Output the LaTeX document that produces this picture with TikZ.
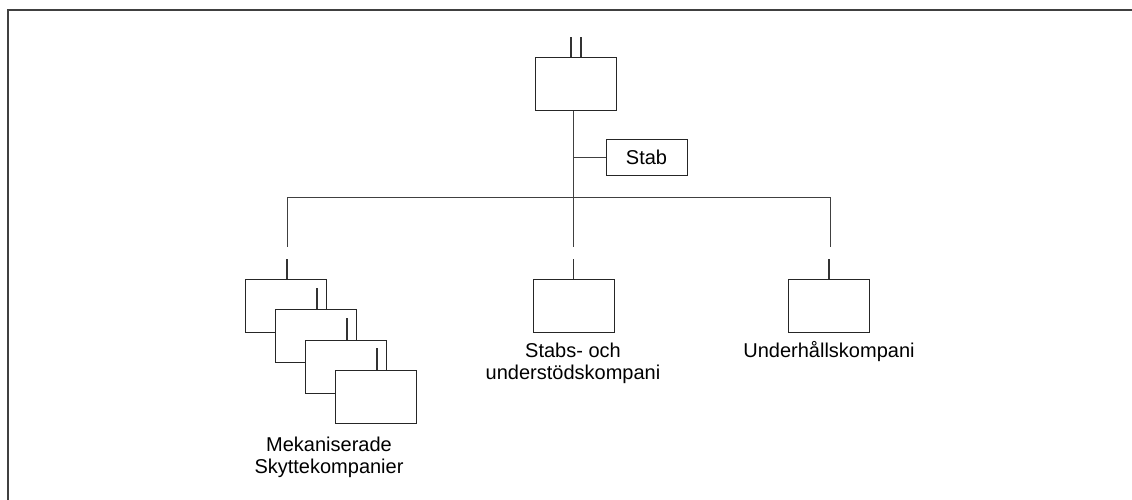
\documentclass[tikz,border=0pt]{standalone}
\usepackage{fontspec}
\setmainfont{Liberation Sans}
\begin{document}
\begin{tikzpicture}[x=1pt,y=-1pt,
  unit/.style={draw=black!85,line width=1pt,fill=white,minimum width=81pt,minimum height=53pt,inner sep=0pt},
  stabbox/.style={draw=black!85,line width=1pt,fill=white,minimum width=81pt,minimum height=35pt,inner sep=0pt,font=\fontsize{20}{22}\selectfont},
  conn/.style={draw=black!75,line width=1pt},
  tick/.style={draw=black!80,line width=1.4pt},
  lbl/.style={align=center,font=\fontsize{20}{22}\selectfont,inner sep=0pt},
  frame/.style={draw=black!75,line width=2pt}]
\useasboundingbox (0,0) rectangle (1132,500);
\draw[frame] (7.5,500) -- (7.5,10.5) -- (1132,10.5);
% top unit
\node[unit] (top) at (576,84.5) {};
\draw[tick] ([xshift=-5pt]top.north) -- ++(0,-20);
\draw[tick] ([xshift=5pt]top.north) -- ++(0,-20);
% stab
\node[stabbox] (stab) at (646.5,157.5) {Stab};
\coordinate (k) at (573,157);
\coordinate (j) at (573,197);
\coordinate (bl) at (287,197);
\coordinate (br) at (830,197);
\draw[conn] (top.south -| j) -- (j);
\draw[conn] (k) -- (stab.west |- k);
\draw[conn] (bl) -- (br);
\draw[conn] (bl) -- ++(0,50);
\draw[conn] (j) -- ++(0,50);
\draw[conn] (br) -- ++(0,50);
% stacked companies
\node[unit] (c1) at (285.5,305.5) {};
\draw[tick] ([xshift=1.5pt]c1.north) -- ++(0,-20);
\draw[tick] (317,288) -- (317,310);
\node[unit] (c2) at (315.5,336) {};
\draw[tick] (347,318) -- (347,340);
\node[unit] (c3) at (345.5,366.5) {};
\draw[tick] (377,348) -- (377,370);
\node[unit] (c4) at (376,396.5) {};
\node[lbl] (lc) at (329,457) {Mekaniserade\\Skyttekompanier};
% stabs- och understödskompani
\node[unit] (s) at (573.5,305.5) {};
\draw[tick] (s.north) -- ++(0,-20);
\node[lbl] (ls) at (573,363) {Stabs- och\\understödskompani};
% underhållskompani
\node[unit] (u) at (829,305.5) {};
\draw[tick] (u.north) -- ++(0,-20);
\node[lbl] (lu) at (829,352) {Underhållskompani};
\end{tikzpicture}
\end{document}
